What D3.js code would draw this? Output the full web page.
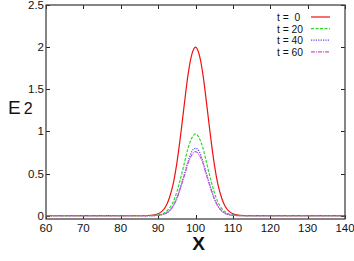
<!DOCTYPE html>
<html>
<head>
<meta charset="utf-8">
<script src="https://cdn.jsdelivr.net/npm/d3@7"></script>
<style>
  body { margin: 0; background: #fff; }
  text { font-family: "Liberation Sans", Arial, sans-serif; }
</style>
</head>
<body>
<script>
var width = 354,
    height = 261

// x positions of the samples
var xs = [60, 85, 86, 87, 88, 89, 90, 91, 92, 93, 94, 95, 96, 97, 98, 99, 100,
          101, 102, 103, 104, 105, 106, 107, 108, 109, 110, 111, 112, 113, 114, 115, 140]

// E2, one list per time
var e2_t0  = [0, 0, 0, 0.001, 0.003, 0.009, 0.022, 0.05, 0.105, 0.21, 0.37, 0.62, 0.95, 1.32, 1.67, 1.91,
              2.0,
              1.91, 1.67, 1.32, 0.95, 0.62, 0.37, 0.21, 0.105, 0.05, 0.022, 0.009, 0.003, 0.001, 0, 0, 0]
var e2_t20 = [0, 0, 0, 0, 0.001, 0.003, 0.008, 0.019, 0.042, 0.087, 0.16, 0.28, 0.44, 0.62, 0.80, 0.92,
              0.97,
              0.92, 0.80, 0.62, 0.44, 0.28, 0.16, 0.087, 0.042, 0.019, 0.008, 0.003, 0.001, 0, 0, 0, 0]
var e2_t40 = [0, 0, 0, 0, 0, 0.001, 0.004, 0.010, 0.025, 0.057, 0.114, 0.21, 0.34, 0.49, 0.64, 0.76,
              0.80,
              0.76, 0.64, 0.49, 0.34, 0.21, 0.114, 0.057, 0.025, 0.010, 0.004, 0.001, 0, 0, 0, 0, 0]
var e2_t60 = [0, 0, 0, 0, 0, 0.001, 0.004, 0.010, 0.026, 0.057, 0.113, 0.20, 0.33, 0.47, 0.62, 0.72,
              0.76,
              0.72, 0.62, 0.47, 0.33, 0.20, 0.113, 0.057, 0.026, 0.010, 0.004, 0.001, 0, 0, 0, 0, 0]

var labels = ["t =  0", "t = 20", "t = 40", "t = 60"]
var colors = ["#f01010", "#22dd22", "#5050f0", "#d050d0"]
var dashes = [null, "3,1.5", "1.2,1.2", "4,1,1,1"]

var xTicks = [60, 70, 80, 90, 100, 110, 120, 130, 140]
var yTicks = [0, 0.5, 1, 1.5, 2, 2.5]

var series = [e2_t0, e2_t20, e2_t40, e2_t60]

var x0 = 46, x1 = 345, y0 = 219, y1 = 5

var x = d3.scaleLinear().domain([60, 140]).range([x0, x1])
var y = d3.scaleLinear().domain([-0.04, 2.5]).range([y0, y1])

var svg = d3.select("body").append("svg")
    .attr("width", width)
    .attr("height", height)

// ticks (inside, mirrored)
var tickLen = 4
svg.selectAll(".xt").data(xTicks).enter().append("path")
    .attr("d", function(d) {
        var px = Math.round(x(d)) + 0.5
        return "M" + px + "," + y0 + "v" + (-tickLen) + "M" + px + "," + y1 + "v" + tickLen
    })
    .attr("stroke", "#222").attr("stroke-width", 1)
svg.selectAll(".yt").data(yTicks).enter().append("path")
    .attr("d", function(d) {
        var py = Math.round(y(d)) + 0.5
        return "M" + x0 + "," + py + "h" + tickLen + "M" + x1 + "," + py + "h" + (-tickLen)
    })
    .attr("stroke", "#222").attr("stroke-width", 1)

svg.selectAll(".xl").data(xTicks).enter().append("text")
    .attr("x", function(d) { return x(d) })
    .attr("y", 232)
    .attr("text-anchor", "middle")
    .attr("font-size", 11.5)
    .attr("fill", "#111")
    .text(function(d) { return d })

svg.selectAll(".yl").data(yTicks).enter().append("text")
    .attr("x", 44)
    .attr("y", function(d) { return y(d) + 4 })
    .attr("text-anchor", "end")
    .attr("font-size", 11.5)
    .attr("fill", "#111")
    .text(function(d) { return d })

// curves
var line = d3.line()
    .x(function(d, i) { return x(xs[i]) })
    .y(function(d) { return y(d) })
    .curve(d3.curveMonotoneX)

svg.selectAll(".curve").data(series).enter().append("path")
    .attr("d", line)
    .attr("fill", "none")
    .attr("stroke", function(d, i) { return colors[i] })
    .attr("stroke-width", 1.2)
    .attr("stroke-dasharray", function(d, i) { return dashes[i] })

// frame
svg.append("rect")
    .attr("x", x0).attr("y", y1)
    .attr("width", x1 - x0).attr("height", y0 - y1)
    .attr("fill", "none")
    .attr("stroke", "#444")
    .attr("stroke-width", 1.3)

// legend
var legend = svg.selectAll(".leg").data(labels).enter().append("g")
    .attr("transform", function(d, i) { return "translate(0," + (17 + i * 11.6) + ")" })
legend.append("text")
    .attr("x", 277)
    .attr("y", 4)
    .attr("font-size", 10.3)
    .attr("fill", "#111")
    .style("white-space", "pre")
    .text(function(d) { return d })
legend.append("line")
    .attr("x1", 311).attr("x2", 330)
    .attr("y1", 0).attr("y2", 0)
    .attr("stroke", function(d, i) { return colors[i] })
    .attr("stroke-width", 1.2)
    .attr("stroke-dasharray", function(d, i) { return dashes[i] })

// axis titles
var yt = svg.append("text")
    .attr("x", 8)
    .attr("y", 114)
    .attr("fill", "#111")
yt.append("tspan").attr("font-size", 19).text("E")
yt.append("tspan").attr("font-size", 16).attr("dx", 3).text("2")

svg.append("text")
    .attr("x", x(100) + 3)
    .attr("y", 250)
    .attr("text-anchor", "middle")
    .attr("font-size", 19)
    .attr("font-weight", "bold")
    .attr("fill", "#111")
    .text("X")
</script>
</body>
</html>
